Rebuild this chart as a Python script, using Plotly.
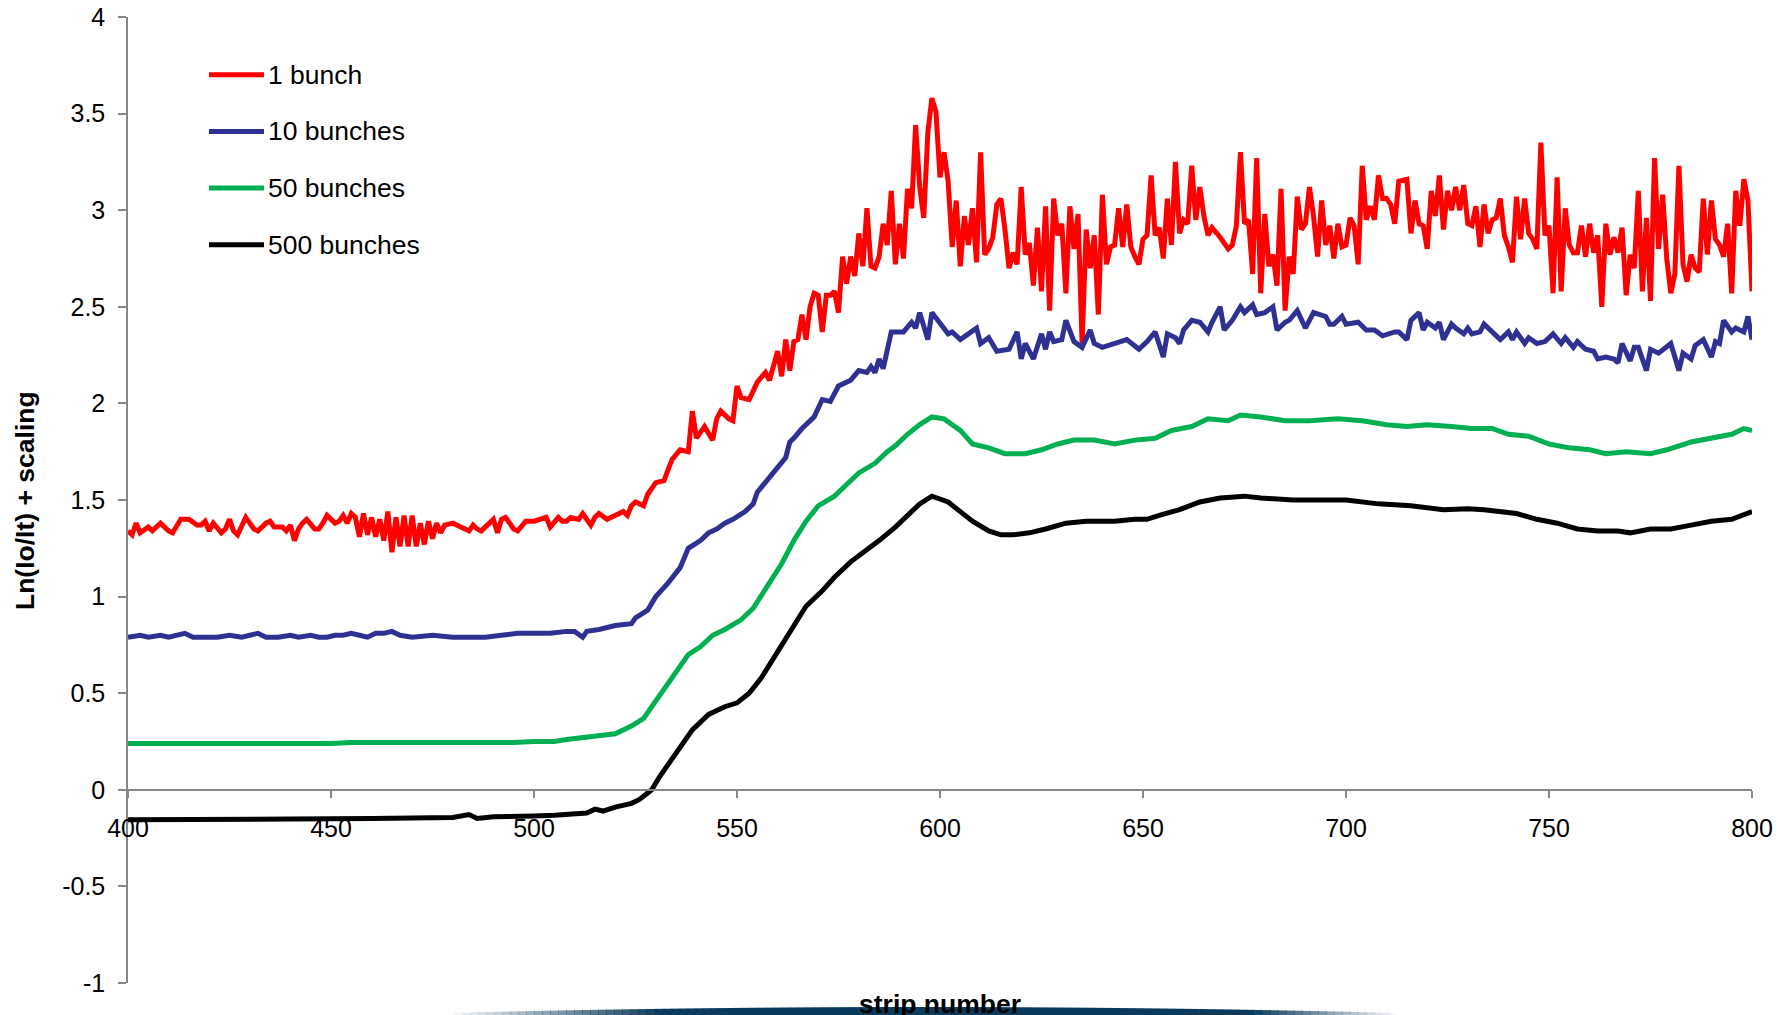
import plotly.graph_objects as go

# ---- data -------------------------------------------------------------
series_names = ["1 bunch", "10 bunches", "50 bunches", "500 bunches"]
series_colors = ["#ff0000", "#2e3192", "#00b050", "#000000"]

strips_1 = [400, 401, 402, 403, 405, 406, 408, 410, 411, 413, 415, 417, 418, 419, 420, 421, 423, 424, 425, 426,
            427, 429, 431, 432, 434, 435, 436, 438, 439, 440, 441, 442, 443, 444, 446, 447, 448, 449, 451, 452,
            453, 454, 455, 456, 457, 458, 459, 460, 461, 462, 463, 464, 465, 466, 467, 468, 469, 470, 471, 472,
            473, 474, 475, 476, 477, 478, 480, 481, 483, 484, 485, 486, 487, 488, 490, 491, 492, 493, 495, 496,
            497, 498, 500, 502, 503, 504, 506, 507, 508, 509, 511, 512, 514, 515, 516, 518, 520, 522, 523, 524,
            525, 527, 528, 530, 532, 534, 536, 538, 539, 540, 542, 544, 545, 546, 548, 549, 550, 551, 553, 555,
            557, 558, 560, 561, 562, 563, 564, 565, 566, 567, 568, 569, 570, 571, 572, 573, 574, 575, 576, 577,
            578, 579, 580, 581, 582, 583, 584, 585, 586, 587, 588, 589, 590, 591, 592, 593, 594, 595, 596, 597,
            598, 599, 600, 601, 602, 603, 604, 605, 606, 607, 608, 609, 610, 611, 612, 613, 614, 615, 616, 617,
            618, 619, 620, 621, 622, 623, 624, 625, 626, 627, 628, 629, 630, 631, 632, 633, 634, 635, 636, 637,
            638, 639, 640, 641, 642, 643, 644, 645, 646, 647, 648, 649, 650, 651, 652, 653, 654, 655, 656, 657,
            658, 659, 660, 661, 662, 663, 664, 665, 666, 667, 669, 671, 672, 673, 674, 675, 676, 677, 678, 679,
            680, 681, 682, 683, 684, 685, 686, 687, 688, 689, 690, 691, 692, 693, 694, 695, 696, 697, 698, 699,
            700, 701, 702, 703, 704, 705, 706, 707, 708, 709, 710, 711, 712, 713, 715, 716, 717, 718, 719, 720,
            721, 722, 723, 724, 725, 726, 727, 728, 729, 730, 731, 732, 733, 734, 735, 736, 737, 738, 739, 740,
            741, 742, 743, 744, 745, 746, 747, 748, 749, 750, 751, 752, 753, 754, 755, 756, 757, 758, 759, 760,
            761, 762, 763, 764, 765, 766, 767, 768, 769, 770, 771, 772, 773, 774, 775, 776, 777, 778, 779, 780,
            781, 782, 783, 784, 785, 786, 787, 788, 789, 790, 791, 792, 793, 794, 795, 796, 797, 798, 799, 800]
values_1 = [1.34, 1.32, 1.38, 1.33, 1.36, 1.34, 1.38, 1.34, 1.33, 1.40, 1.40, 1.37, 1.37, 1.39, 1.34, 1.38, 1.33, 1.35, 1.40, 1.34,
            1.32, 1.41, 1.35, 1.34, 1.38, 1.39, 1.36, 1.36, 1.34, 1.37, 1.29, 1.35, 1.38, 1.40, 1.35, 1.35, 1.38, 1.42, 1.38, 1.39,
            1.42, 1.38, 1.43, 1.41, 1.31, 1.43, 1.32, 1.41, 1.31, 1.40, 1.29, 1.44, 1.23, 1.41, 1.26, 1.42, 1.26, 1.42, 1.26, 1.38,
            1.27, 1.39, 1.30, 1.38, 1.33, 1.37, 1.38, 1.37, 1.35, 1.34, 1.37, 1.35, 1.34, 1.36, 1.40, 1.33, 1.40, 1.41, 1.35, 1.34,
            1.37, 1.39, 1.39, 1.40, 1.41, 1.36, 1.41, 1.39, 1.39, 1.41, 1.40, 1.43, 1.37, 1.41, 1.43, 1.40, 1.42, 1.44, 1.42, 1.47,
            1.49, 1.47, 1.53, 1.59, 1.60, 1.71, 1.76, 1.75, 1.96, 1.82, 1.88, 1.81, 1.92, 1.96, 1.92, 1.91, 2.09, 2.03, 2.02, 2.11,
            2.16, 2.12, 2.27, 2.14, 2.33, 2.17, 2.32, 2.33, 2.46, 2.33, 2.50, 2.57, 2.56, 2.37, 2.56, 2.56, 2.58, 2.47, 2.76, 2.62,
            2.76, 2.66, 2.88, 2.71, 3.01, 2.71, 2.70, 2.76, 2.93, 2.82, 3.10, 2.72, 2.93, 2.75, 3.11, 3.01, 3.44, 3.12, 2.96, 3.40,
            3.58, 3.51, 3.17, 3.30, 3.15, 2.81, 3.05, 2.71, 2.97, 2.82, 3.01, 2.73, 3.30, 2.77, 2.80, 2.86, 3.03, 3.06, 2.90, 2.70,
            2.78, 2.72, 3.12, 2.77, 2.83, 2.61, 2.91, 2.58, 3.02, 2.48, 3.06, 2.87, 2.93, 2.57, 3.02, 2.80, 2.98, 2.31, 2.90, 2.70,
            2.87, 2.46, 3.08, 2.72, 2.81, 2.82, 3.01, 2.81, 3.03, 2.81, 2.76, 2.72, 2.85, 2.87, 3.18, 2.87, 2.91, 2.75, 3.06, 2.82,
            3.25, 2.88, 2.95, 2.93, 3.23, 2.95, 3.12, 2.97, 2.87, 2.91, 2.86, 2.80, 2.82, 2.92, 3.30, 2.93, 2.95, 2.67, 3.27, 2.57,
            2.98, 2.71, 2.77, 2.61, 3.11, 2.48, 2.76, 2.67, 3.07, 2.90, 2.93, 3.12, 2.97, 2.76, 3.05, 2.82, 2.92, 2.75, 2.93, 2.81,
            2.82, 2.96, 2.92, 2.72, 3.23, 2.95, 3.02, 2.95, 3.18, 3.06, 3.06, 3.03, 2.93, 3.15, 3.16, 2.88, 3.05, 2.93, 2.92, 2.80,
            3.10, 2.97, 3.18, 2.90, 3.10, 3.00, 3.12, 3.00, 3.13, 2.93, 2.92, 3.02, 2.81, 3.03, 2.88, 2.95, 2.96, 3.06, 2.87, 2.81,
            2.73, 3.07, 2.85, 3.06, 2.88, 2.85, 2.80, 3.35, 2.87, 2.92, 2.57, 3.17, 2.58, 3.01, 2.82, 2.78, 2.78, 2.92, 2.76, 2.93,
            2.78, 2.87, 2.50, 2.93, 2.77, 2.86, 2.78, 2.91, 2.56, 2.77, 2.70, 3.10, 2.58, 2.96, 2.53, 3.27, 2.80, 3.08, 2.75, 2.57,
            2.67, 3.23, 2.72, 2.63, 2.77, 2.70, 2.68, 3.06, 2.77, 3.05, 2.85, 2.82, 2.76, 2.93, 2.57, 3.10, 2.92, 3.16, 3.05, 2.58]

strips_10 = [400, 403, 405, 408, 410, 412, 414, 416, 419, 422, 425, 428, 430, 432, 434, 437, 440, 442, 445, 447,
             449, 451, 453, 455, 457, 459, 461, 463, 465, 467, 470, 475, 480, 484, 488, 492, 496, 500, 504, 508,
             510, 512, 513, 516, 520, 524, 525, 528, 530, 533, 536, 538, 541, 543, 545, 547, 549, 552, 554, 555,
             557, 560, 562, 563, 564, 566, 569, 571, 573, 575, 578, 580, 582, 583, 584, 585, 586, 588, 591, 593,
             594, 595, 597, 598, 600, 601, 602, 603, 605, 607, 609, 610, 612, 614, 617, 619, 620, 621, 623, 625,
             626, 627, 628, 630, 631, 633, 635, 637, 638, 640, 643, 646, 649, 651, 653, 655, 656, 658, 659, 660,
             662, 664, 666, 667, 669, 670, 672, 674, 675, 677, 678, 680, 682, 683, 685, 686, 688, 689, 690, 692,
             695, 696, 697, 699, 700, 703, 705, 707, 709, 712, 713, 715, 716, 718, 719, 720, 722, 723, 724, 726,
             727, 729, 730, 731, 733, 734, 736, 738, 740, 741, 742, 744, 745, 747, 749, 751, 753, 754, 756, 757,
             759, 761, 762, 764, 766, 767, 768, 770, 771, 772, 774, 775, 777, 780, 782, 783, 785, 786, 788, 790,
             791, 792, 793, 795, 796, 798, 799, 800]
values_10 = [0.79, 0.80, 0.79, 0.80, 0.79, 0.80, 0.81, 0.79, 0.79, 0.79, 0.80, 0.79, 0.80, 0.81, 0.79, 0.79, 0.80, 0.79, 0.80, 0.79,
             0.79, 0.80, 0.80, 0.81, 0.80, 0.79, 0.81, 0.81, 0.82, 0.80, 0.79, 0.80, 0.79, 0.79, 0.79, 0.80, 0.81, 0.81, 0.81, 0.82,
             0.82, 0.79, 0.82, 0.83, 0.85, 0.86, 0.89, 0.93, 1.00, 1.07, 1.15, 1.25, 1.29, 1.33, 1.35, 1.38, 1.40, 1.44, 1.48, 1.54,
             1.59, 1.67, 1.72, 1.80, 1.82, 1.87, 1.93, 2.02, 2.01, 2.09, 2.12, 2.17, 2.16, 2.19, 2.16, 2.23, 2.18, 2.37, 2.37, 2.42,
             2.39, 2.47, 2.33, 2.47, 2.41, 2.39, 2.36, 2.37, 2.33, 2.36, 2.39, 2.31, 2.34, 2.27, 2.28, 2.37, 2.23, 2.31, 2.23, 2.36,
             2.28, 2.37, 2.32, 2.33, 2.43, 2.32, 2.29, 2.38, 2.31, 2.29, 2.31, 2.33, 2.28, 2.32, 2.37, 2.24, 2.36, 2.34, 2.31, 2.38,
             2.43, 2.42, 2.37, 2.42, 2.50, 2.38, 2.43, 2.50, 2.47, 2.51, 2.46, 2.47, 2.50, 2.38, 2.42, 2.43, 2.48, 2.43, 2.39, 2.47,
             2.45, 2.41, 2.41, 2.45, 2.41, 2.42, 2.38, 2.38, 2.35, 2.37, 2.37, 2.33, 2.43, 2.47, 2.38, 2.42, 2.39, 2.42, 2.33, 2.41,
             2.39, 2.36, 2.39, 2.36, 2.37, 2.41, 2.37, 2.33, 2.37, 2.33, 2.37, 2.31, 2.34, 2.31, 2.32, 2.36, 2.31, 2.34, 2.29, 2.32,
             2.28, 2.27, 2.23, 2.24, 2.23, 2.21, 2.31, 2.22, 2.29, 2.29, 2.17, 2.28, 2.26, 2.31, 2.17, 2.26, 2.23, 2.30, 2.33, 2.24,
             2.32, 2.31, 2.43, 2.37, 2.39, 2.37, 2.45, 2.33]

strips_50 = [400, 405, 410, 415, 420, 425, 430, 435, 440, 445, 450, 455, 460, 465, 470, 475, 480, 485, 490, 495,
             500, 505, 508, 512, 516, 520, 524, 527, 529, 531, 533, 536, 538, 541, 544, 547, 551, 554, 557, 561,
             564, 567, 570, 574, 577, 580, 584, 587, 589, 592, 595, 598, 601, 605, 608, 612, 616, 621, 625, 629,
             633, 638, 643, 648, 653, 657, 662, 666, 671, 674, 679, 685, 691, 698, 704, 710, 715, 720, 726, 731,
             736, 740, 745, 750, 755, 760, 764, 769, 775, 779, 785, 790, 795, 798, 800]
values_50 = [0.24, 0.24, 0.235, 0.235, 0.24, 0.24, 0.24, 0.24, 0.235, 0.24, 0.24, 0.245, 0.245, 0.24, 0.24, 0.245, 0.245, 0.245, 0.245, 0.245,
             0.25, 0.25, 0.26, 0.27, 0.28, 0.29, 0.33, 0.37, 0.43, 0.49, 0.54, 0.64, 0.70, 0.74, 0.80, 0.83, 0.88, 0.94, 1.04, 1.17,
             1.29, 1.39, 1.47, 1.52, 1.58, 1.64, 1.69, 1.75, 1.78, 1.84, 1.89, 1.93, 1.92, 1.86, 1.79, 1.77, 1.74, 1.74, 1.76, 1.79,
             1.81, 1.81, 1.79, 1.81, 1.82, 1.86, 1.88, 1.92, 1.91, 1.94, 1.93, 1.91, 1.91, 1.92, 1.91, 1.89, 1.88, 1.89, 1.88, 1.87,
             1.87, 1.84, 1.83, 1.79, 1.77, 1.76, 1.74, 1.75, 1.74, 1.76, 1.80, 1.82, 1.84, 1.87, 1.86]

strips_500 = [400, 410, 420, 430, 440, 450, 460, 470, 480, 484, 486, 490, 495, 500, 505, 510, 513, 515, 517, 520,
              524, 526, 528, 529, 531, 534, 537, 539, 543, 547, 550, 553, 556, 559, 563, 567, 571, 574, 578, 582,
              585, 589, 592, 595, 598, 602, 605, 608, 612, 615, 618, 622, 626, 631, 636, 643, 648, 651, 654, 659,
              664, 669, 675, 679, 687, 695, 700, 708, 716, 724, 730, 734, 742, 747, 752, 757, 762, 767, 770, 775,
              780, 785, 790, 795, 798, 800]
values_500 = [-0.155, -0.155, -0.155, -0.155, -0.152, -0.15, -0.148, -0.146, -0.143, -0.128, -0.148, -0.14, -0.135, -0.135, -0.132, -0.127, -0.12, -0.10, -0.11, -0.09,
              -0.07, -0.05, -0.02, 0.00, 0.07, 0.16, 0.25, 0.31, 0.39, 0.43, 0.45, 0.50, 0.58, 0.68, 0.82, 0.95, 1.03, 1.10, 1.18, 1.24,
              1.29, 1.36, 1.42, 1.48, 1.52, 1.49, 1.44, 1.39, 1.34, 1.32, 1.32, 1.33, 1.35, 1.38, 1.39, 1.39, 1.40, 1.40, 1.42, 1.45,
              1.49, 1.51, 1.52, 1.51, 1.50, 1.50, 1.50, 1.48, 1.47, 1.45, 1.455, 1.45, 1.43, 1.40, 1.38, 1.35, 1.34, 1.34, 1.33, 1.35,
              1.35, 1.37, 1.39, 1.40, 1.42, 1.44]

x_ticks = [400, 450, 500, 550, 600, 650, 700, 750, 800]
y_ticks = [-1, -0.5, 0, 0.5, 1, 1.5, 2, 2.5, 3, 3.5, 4]
y_tick_labels = ["-1", "-0.5", "0", "0.5", "1", "1.5", "2", "2.5", "3", "3.5", "4"]

x_title = "strip number"
y_title = "Ln(Io/It) + scaling"

# ---- figure -----------------------------------------------------------
W, H = 1791, 1015
M_L, M_R, M_T, M_B = 128, 39, 17, 32
PW, PH = W - M_L - M_R, H - M_T - M_B
FONT = "Arial, 'Liberation Sans', sans-serif"
AXIS_GREY = "#868686"
LINE_W = 5


def px_to_paper(px, py):
    return (px - M_L) / PW, (H - M_B - py) / PH


fig = go.Figure()
all_x = [strips_1, strips_10, strips_50, strips_500]
all_y = [values_1, values_10, values_50, values_500]
for name, color, xs, ys in zip(series_names, series_colors, all_x, all_y):
    fig.add_trace(go.Scatter(x=xs, y=ys, mode="lines", name=name,
                             line=dict(color=color, width=LINE_W),
                             showlegend=False, hoverinfo="x+y+name"))

shapes = []
annotations = []

# legend drawn as short line samples with labels
for i, (name, color) in enumerate(zip(series_names, series_colors)):
    row_y = 74.7 + i * 56.7
    x0, y0 = px_to_paper(209, row_y)
    x1, _ = px_to_paper(264, row_y)
    shapes.append(dict(type="line", xref="paper", yref="paper", x0=x0, x1=x1, y0=y0, y1=y0,
                       line=dict(color=color, width=LINE_W)))
    tx, _ = px_to_paper(266, row_y)
    annotations.append(dict(xref="paper", yref="paper", x=tx, y=y0, text=name, showarrow=False,
                            xanchor="left", yanchor="middle",
                            font=dict(family=FONT, size=26.5, color="#000000")))

# axis titles
ax, ay = px_to_paper(25, 500)
annotations.append(dict(xref="paper", yref="paper", x=ax, y=ay, text="<b>" + y_title + "</b>",
                        showarrow=False, textangle=-90, xanchor="center", yanchor="middle",
                        font=dict(family=FONT, size=26.5, color="#000000")))
bx, by = px_to_paper(940, 1004)
annotations.append(dict(xref="paper", yref="paper", x=bx, y=by, text="<b>" + x_title + "</b>",
                        showarrow=False, xanchor="center", yanchor="middle",
                        font=dict(family=FONT, size=26.5, color="#000000")))

# navy swoosh along the bottom edge
NAVY = "#0c3a5c"
seg = 8
xpos = 446
while xpos < 1400:
    xc = xpos + seg / 2
    top = 1007.0 + 6.0 * ((xc - 923) / 477) ** 2
    if xc < 660:
        op = (xc - 446) / 214
    elif xc > 1250:
        op = max(0.0, (1400 - xc) / 150)
    else:
        op = 1.0
    p0x, p0y = px_to_paper(xpos, top)
    p1x, p1y = px_to_paper(xpos + seg + 0.5, 1016)
    shapes.append(dict(type="rect", xref="paper", yref="paper", x0=p0x, x1=p1x, y0=p1y, y1=p0y,
                       fillcolor=NAVY, opacity=op, line=dict(width=0), layer="below"))
    xpos += seg

fig.update_layout(
    width=W, height=H,
    margin=dict(l=M_L, r=M_R, t=M_T, b=M_B, pad=0, autoexpand=False),
    paper_bgcolor="#ffffff", plot_bgcolor="#ffffff",
    font=dict(family=FONT, size=25, color="#000000"),
    shapes=shapes, annotations=annotations,
    showlegend=False,
)
fig.update_xaxes(
    range=[400, 800], tickvals=x_ticks, ticktext=[str(v) for v in x_ticks],
    showgrid=False, zeroline=False, automargin=False,
    showline=True, linecolor=AXIS_GREY, linewidth=1.5,
    ticks="outside", ticklen=7, tickwidth=1.5, tickcolor=AXIS_GREY,
    tickfont=dict(family=FONT, size=25, color="#000000"),
    ticklabelstandoff=9,
    anchor="free", position=0.2,
)
fig.update_yaxes(
    range=[-1, 4], tickvals=y_ticks, ticktext=y_tick_labels,
    showgrid=False, zeroline=False, automargin=False,
    showline=True, linecolor=AXIS_GREY, linewidth=1.5,
    ticks="outside", ticklen=8, tickwidth=1.5, tickcolor=AXIS_GREY,
    tickfont=dict(family=FONT, size=25, color="#000000"),
    ticklabelstandoff=8,
)

fig.write_html("out.html")
